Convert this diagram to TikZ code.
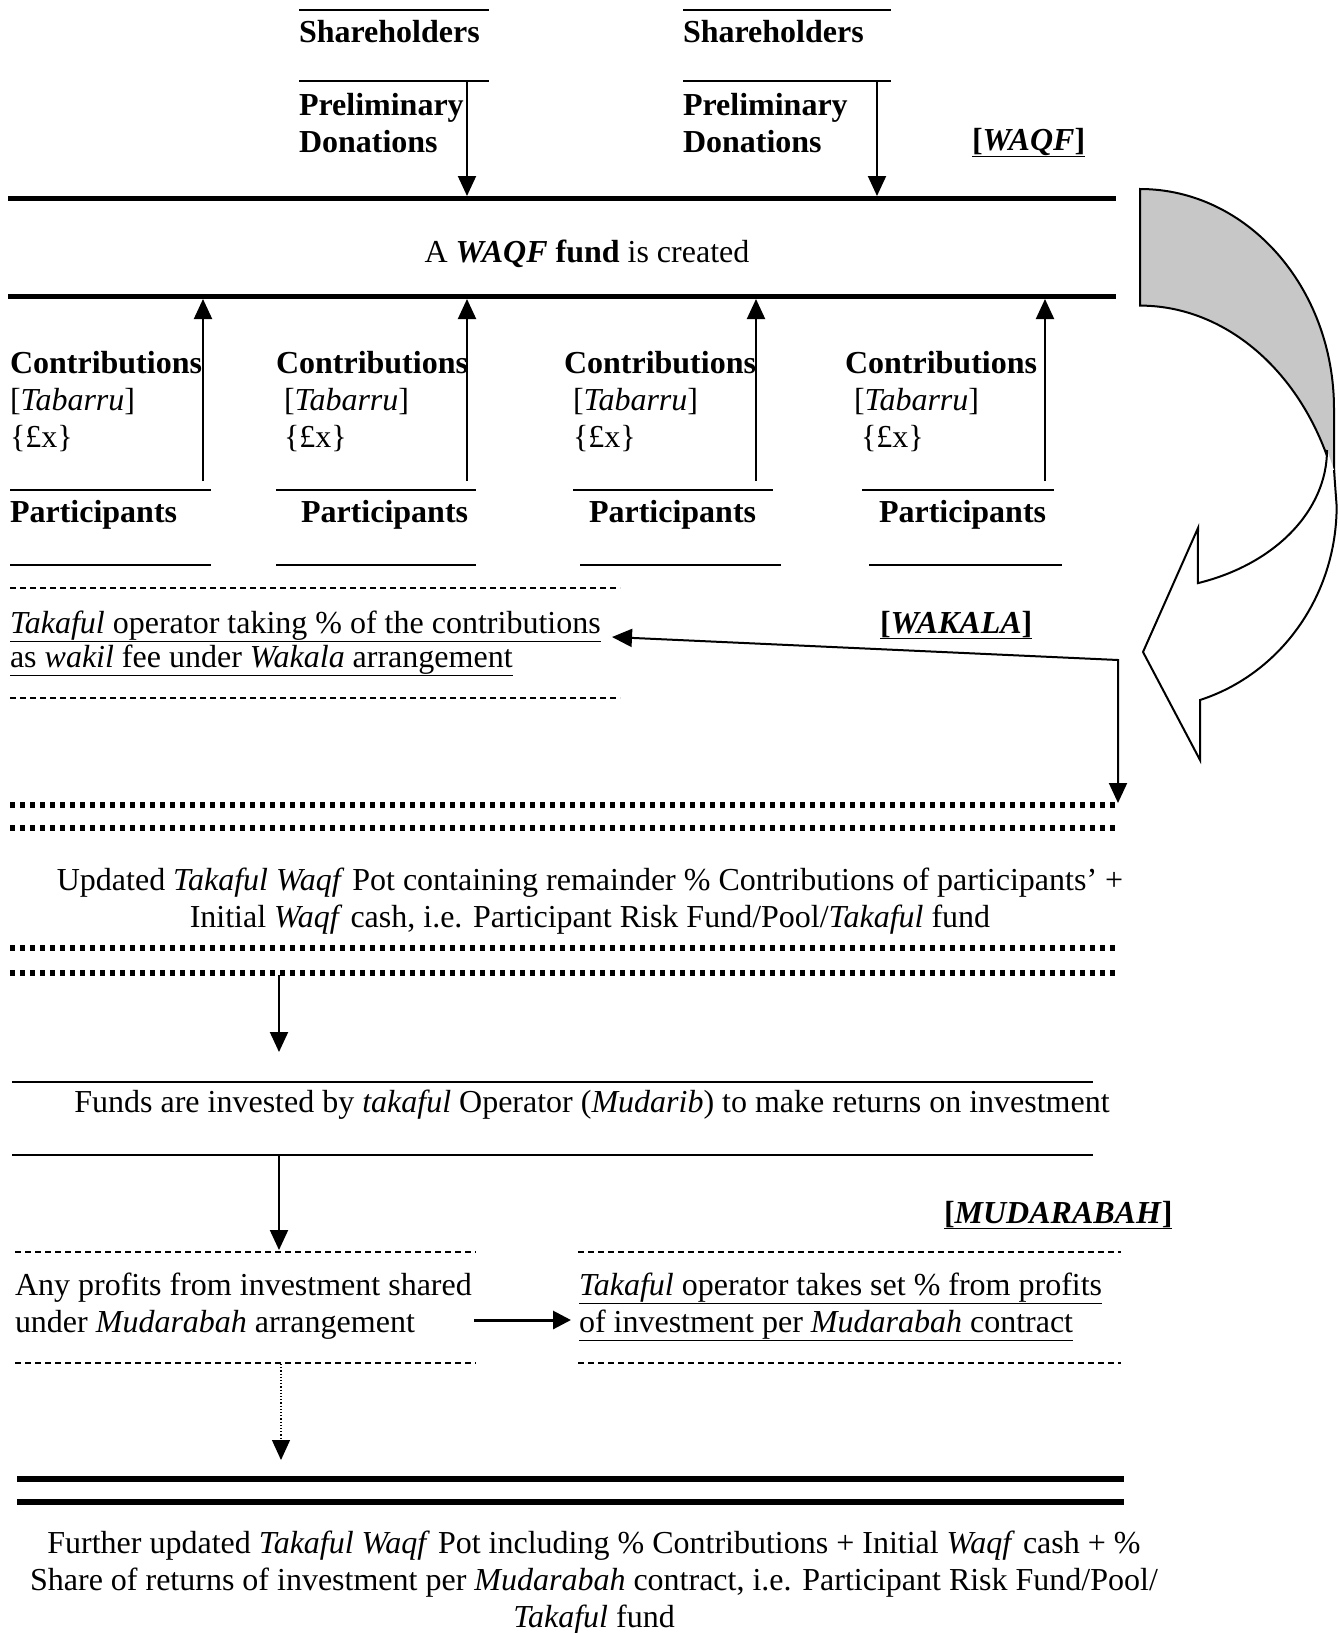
\documentclass[tikz,border=0pt]{standalone}
\usepackage{fontspec}
\setmainfont{Liberation Serif}
\usetikzlibrary{arrows.meta}

\begin{document}
\begin{tikzpicture}[x=1pt,y=-1pt,
  every node/.style={inner sep=0pt, outer sep=0pt, font=\fontsize{32}{37}\selectfont},
  txt/.style={anchor=base west},
  ctr/.style={anchor=base},
  bold/.style={font=\fontsize{32}{37}\selectfont\bfseries},
  rule/.style={line width=2pt},
  heavy/.style={line width=5pt},
  dotrule/.style={line width=6pt, dash pattern=on 5pt off 5pt},
  dashrule/.style={line width=1.8pt, dash pattern=on 6pt off 4pt},
  flow/.style={line width=2pt, -{Triangle[width=18pt,length=20pt]}},
  bothflow/.style={line width=2pt, {Triangle[width=18pt,length=20pt]}-{Triangle[width=18pt,length=20pt]}},
  band/.style={line width=2pt, line join=miter},
]
\useasboundingbox (0,0) rectangle (1340,1633);

% ---------- shareholders and preliminary donations ----------
\draw[rule] (299,10) -- (489,10);
\node[txt,bold] (sh1) at (299,42) {Shareholders};
\draw[rule] (299,81) -- (489,81);
\node[txt,bold] (pre1) at (299,115) {Preliminary};
\node[txt,bold] (don1) at (299,152) {Donations};
\coordinate (d1s) at (467,81);
\coordinate (d1e) at (467,196);
\draw[flow] (d1s) -- (d1e);

\draw[rule] (683,10) -- (891,10);
\node[txt,bold] (sh2) at (683,42) {Shareholders};
\draw[rule] (683,81) -- (891,81);
\node[txt,bold] (pre2) at (683,115) {Preliminary};
\node[txt,bold] (don2) at (683,152) {Donations};
\coordinate (d2s) at (877,81);
\coordinate (d2e) at (877,196);
\draw[flow] (d2s) -- (d2e);

\node[txt] (waqf) at (972,150) {\underline{\textbf{[\textit{WAQF}]}}};

% ---------- waqf fund ----------
\draw[heavy] (8,198) -- (1116,198);
\node[ctr] (fund) at (587,262) {A \textbf{\textit{WAQF} fund} is created};
\draw[heavy] (8,296) -- (1116,296);

% ---------- participants and contributions ----------
\foreach \n/\cx/\tx/\fx/\ax/\la/\lb/\px/\ba/\bb in {
   1/10/10/10/203/10/211/10/10/211,
   2/276/284/284/467/276/476/301/276/476,
   3/564/573/573/756/573/773/589/580/781,
   4/845/854/861/1045/862/1054/879/869/1062}{
  \node[txt,bold] (con\n) at (\cx,373) {Contributions};
  \node[txt] (tab\n) at (\tx,410) {[\textit{Tabarru}]};
  \node[txt] (amt\n) at (\fx,447) {\{£x\}};
  \draw[rule] (\la,490) -- (\lb,490);
  \node[txt,bold] (par\n) at (\px,522) {Participants};
  \draw[rule] (\ba,565) -- (\bb,565);
  \coordinate (up\n s) at (\ax,481);
  \coordinate (up\n e) at (\ax,299);
  \draw[flow] (up\n s) -- (up\n e);
}

% ---------- wakala fee ----------
\draw[dashrule] (10,588) -- (620,588);
\node[txt] (tak1) at (10,633) {\underline{\textit{Takaful} operator taking \% of the contributions}};
\node[txt] (tak2) at (10,667) {\underline{as \textit{wakil} fee under \textit{Wakala} arrangement}};
\draw[dashrule] (10,698) -- (620,698);
\node[txt] (wakala) at (880,633) {\underline{\textbf{[\textit{WAKALA}]}}};

\coordinate (wk) at (1118,660);
\coordinate (wkin) at (612,637);
\coordinate (wkout) at (1118,803);
\draw[bothflow] (wkin) -- (wk) -- (wkout);

% ---------- updated pot ----------
\draw[dotrule] (10,805) -- (1116,805);
\draw[dotrule] (10,828) -- (1116,828);
\node[ctr] (pot1) at (590,890) {Updated \textit{Takaful Waqf} Pot containing remainder \% Contributions of participants’ +};
\node[ctr] (pot2) at (590,927) {Initial \textit{Waqf} cash, i.e. Participant Risk Fund/Pool/\textit{Takaful} fund};
\draw[dotrule] (10,948) -- (1116,948);
\draw[dotrule] (10,973) -- (1116,973);

\coordinate (inv s) at (279,975);
\coordinate (inv e) at (279,1052);
\draw[flow] (inv s) -- (inv e);

% ---------- investment ----------
\draw[rule] (12,1082) -- (1093,1082);
\node[ctr] (funds) at (592,1112) {Funds are invested by \textit{takaful} Operator (\textit{Mudarib}) to make returns on investment};
\draw[rule] (12,1155) -- (1093,1155);

\coordinate (pro s) at (279,1155);
\coordinate (pro e) at (279,1250);
\draw[flow] (pro s) -- (pro e);

\node[txt] (mud) at (944,1223) {\underline{\textbf{[\textit{MUDARABAH}]}}};

% ---------- mudarabah profit sharing ----------
\draw[dashrule] (15,1252) -- (476,1252);
\draw[dashrule] (15,1363) -- (476,1363);
\node[txt] (prof1) at (15,1295) {Any profits from investment shared};
\node[txt] (prof2) at (15,1332) {under \textit{Mudarabah} arrangement};

\draw[dashrule] (578,1252) -- (1121,1252);
\draw[dashrule] (578,1363) -- (1121,1363);
\node[txt] (opr1) at (579,1295) {\underline{\textit{Takaful} operator takes set \% from profits}};
\node[txt] (opr2) at (579,1332) {\underline{of investment per \textit{Mudarabah} contract}};

\coordinate (sh s) at (474,1320);
\coordinate (sh e) at (571,1320);
\draw[line width=3pt, -{Triangle[width=18pt,length=18pt]}] (sh s) -- (sh e);

\coordinate (fin s) at (281,1364);
\coordinate (fin e) at (281,1460);
\draw[line width=1.2pt, dotted, -{Triangle[width=18pt,length=20pt]}] (fin s) -- (fin e);

% ---------- final pot ----------
\draw[line width=6pt] (17,1479) -- (1124,1479);
\draw[line width=6pt] (17,1502) -- (1124,1502);
\node[ctr] (fin1) at (594,1553) {Further updated \textit{Takaful Waqf} Pot including \% Contributions + Initial \textit{Waqf} cash + \%};
\node[ctr] (fin2) at (594,1590) {Share of returns of investment per \textit{Mudarabah} contract, i.e. Participant Risk Fund/Pool/};
\node[ctr] (fin3) at (594,1627) {\textit{Takaful} fund};

% ---------- curved block arrow ----------
% back (shaded) part of the band
\draw[band, fill=black!22]
  (1140,305) -- (1140,189)
  arc[start angle=-90, end angle=0, x radius=194, y radius=220]
  -- (1334,478)
  arc[start angle=-18.9, end angle=-90, x radius=205, y radius=255]
  -- cycle;
% front (white) part of the band with its head
\draw[band, fill=white]
  (1327,450) arc[start angle=0, end angle=72, x radius=187, y radius=140]
  -- (1198,528) -- (1143,652) -- (1200,760) -- (1200,700)
  arc[start angle=72.8, end angle=0, x radius=194, y radius=203]
  -- (1334,470);
\end{tikzpicture}
\end{document}
